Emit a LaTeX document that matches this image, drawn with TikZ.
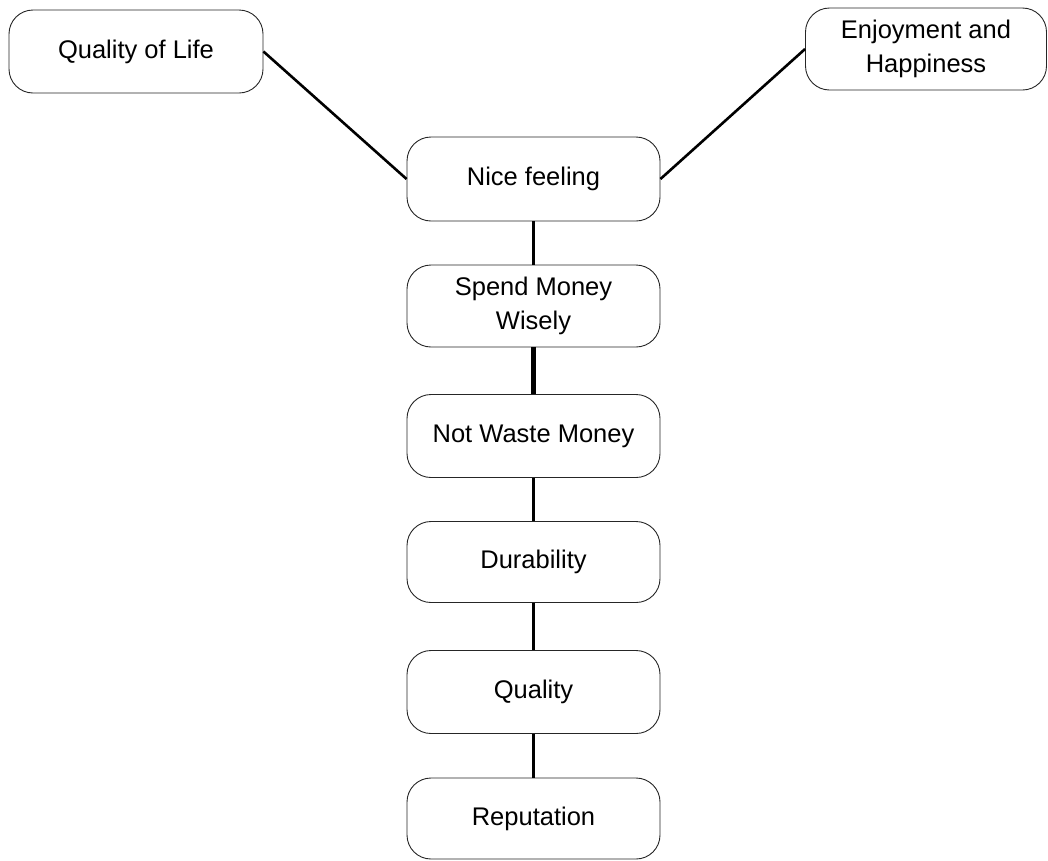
\documentclass[tikz,border=0pt]{standalone}
\usepackage{fontspec}
\setmainfont{Liberation Sans}
\begin{document}
\begin{tikzpicture}[x=1pt,y=-1pt,
  box/.style={draw=black!85,line width=0.9pt,rounded corners=24pt,align=center,
    inner sep=0pt,font=\fontsize{25.5}{34}\selectfont},
  link/.style={line width=2.6pt,black},
  thicklink/.style={line width=5pt,black},
  midlink/.style={line width=3.6pt,black}]
\useasboundingbox (0,0) rectangle (1048,860);
\node[box,minimum width=254pt,minimum height=83pt] (qol) at (136,51.5) {Quality of Life};
\node[box,minimum width=241pt,minimum height=82pt] (enj) at (926,49) {Enjoyment and\\Happiness};
\node[box,minimum width=253pt,minimum height=84pt] (nice) at (533.5,179) {Nice feeling};
\node[box,minimum width=253pt,minimum height=82pt] (spend) at (533.5,306) {Spend Money\\Wisely};
\node[box,minimum width=253pt,minimum height=83pt] (waste) at (533.5,436) {Not Waste Money};
\node[box,minimum width=253pt,minimum height=81pt] (dur) at (533.5,562) {Durability};
\node[box,minimum width=253pt,minimum height=83pt] (qual) at (533.5,692) {Quality};
\node[box,minimum width=253pt,minimum height=81pt] (rep) at (533.5,818.5) {Reputation};
\draw[link] (qol.east) -- (nice.west);
\draw[link] (enj.west) -- (nice.east);
\draw[link] (nice.south) -- (spend.north);
\draw[thicklink] (spend.south) -- (waste.north);
\draw[link] (waste.south) -- (dur.north);
\draw[midlink] (dur.south) -- (qual.north);
\draw[link] (qual.south) -- (rep.north);
\end{tikzpicture}
\end{document}
